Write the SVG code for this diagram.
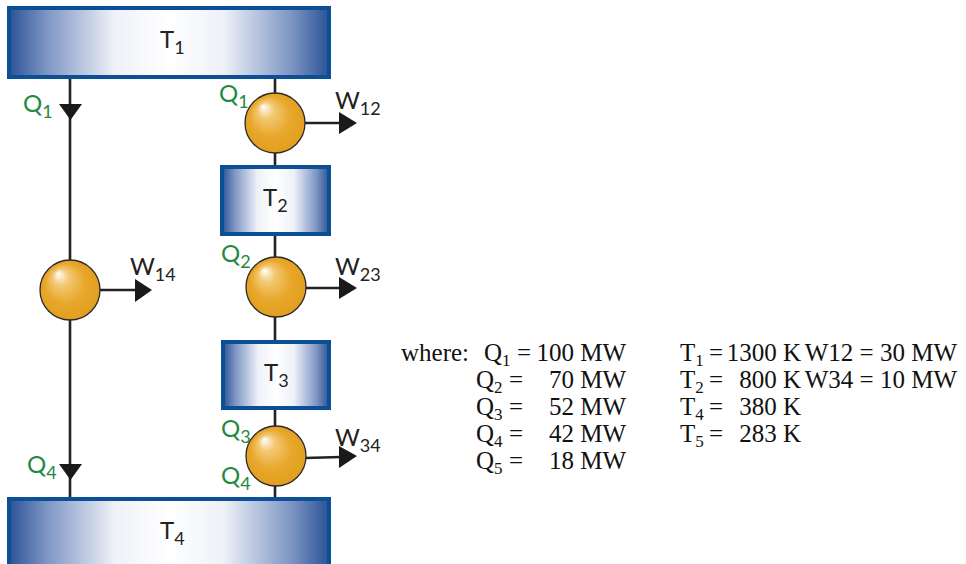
<svg xmlns="http://www.w3.org/2000/svg" width="966" height="564" viewBox="0 0 966 564">
<defs>
<linearGradient id="boxg" x1="0" y1="0" x2="1" y2="0">
<stop offset="0" stop-color="#2a5296"/>
<stop offset="0.12" stop-color="#7f97c4"/>
<stop offset="0.33" stop-color="#eef1f8"/>
<stop offset="0.5" stop-color="#ffffff"/>
<stop offset="0.67" stop-color="#eef1f8"/>
<stop offset="0.88" stop-color="#7f97c4"/>
<stop offset="1" stop-color="#2a5296"/>
</linearGradient>
<radialGradient id="ballg" cx="0.5" cy="0.5" r="0.55" fx="0.3" fy="0.22">
<stop offset="0" stop-color="#ffffff"/>
<stop offset="0.25" stop-color="#f2c872"/>
<stop offset="0.6" stop-color="#e8a82c"/>
<stop offset="1" stop-color="#e19d1c"/>
</radialGradient>
<style>
.box{fill:url(#boxg);stroke:#0b4f97;stroke-width:4}
.ball{fill:url(#ballg);stroke:#2a2a2a;stroke-width:1.3}
.ln{stroke:#222;stroke-width:2.6;fill:none}
.ah{fill:#1a1a1a}
.lbl{font-family:Lato,"Noto Sans",sans-serif;font-size:24px;fill:#222}
.q{fill:#1f8a3e}
.sub{font-size:18px}
.eq{font-family:"Liberation Serif","Times New Roman",serif;font-size:25px;fill:#111}
.s2{font-size:17px}
</style>
</defs>
<g id="connectors">
<line class="ln" x1="70" y1="78" x2="70" y2="498"/>
<polygon class="ah" points="59,104 82,104 70.5,120"/>
<polygon class="ah" points="59,464 82,464 70.5,480"/>
<line class="ln" x1="275" y1="78" x2="275" y2="498"/>
<line class="ln" x1="100" y1="290" x2="137" y2="290"/>
<polygon class="ah" points="135,279 135,302 152,290"/>
<line class="ln" x1="304" y1="123" x2="341" y2="123"/>
<polygon class="ah" points="339,112 339,134 357,123"/>
<line class="ln" x1="305" y1="288" x2="341" y2="288"/>
<polygon class="ah" points="339,277 339,299 357,288"/>
<line class="ln" x1="305" y1="458" x2="341" y2="457"/>
<polygon class="ah" points="339,446 339,468 357,456"/>
</g>
<g id="T1"><rect class="box" x="9" y="8" width="320" height="69"/><text class="lbl" x="160" y="48">T<tspan class="sub" dy="6">1</tspan></text></g>
<g id="T2"><rect class="box" x="222" y="167" width="107" height="67"/><text class="lbl" x="263" y="206">T<tspan class="sub" dy="6">2</tspan></text></g>
<g id="T3"><rect class="box" x="223" y="342" width="106" height="66"/><text class="lbl" x="264" y="381">T<tspan class="sub" dy="6">3</tspan></text></g>
<g id="T4"><rect class="box" x="9" y="499" width="320" height="80"/><text class="lbl" x="160" y="539">T<tspan class="sub" dy="6">4</tspan></text></g>
<g id="E1"><circle class="ball" cx="275" cy="123" r="30"/></g>
<g id="E14"><circle class="ball" cx="70" cy="290" r="30"/></g>
<g id="E23"><circle class="ball" cx="276" cy="287" r="30"/></g>
<g id="E34"><circle class="ball" cx="276" cy="456" r="30"/></g>
<g id="labels">
<text class="lbl q" x="23" y="112">Q<tspan class="sub" dy="6">1</tspan></text>
<text class="lbl q" x="219" y="102">Q<tspan class="sub" dy="6">1</tspan></text>
<text class="lbl q" x="221" y="262">Q<tspan class="sub" dy="6">2</tspan></text>
<text class="lbl q" x="221" y="437">Q<tspan class="sub" dy="6">3</tspan></text>
<text class="lbl q" x="221" y="484">Q<tspan class="sub" dy="6">4</tspan></text>
<text class="lbl q" x="27" y="473">Q<tspan class="sub" dy="6">4</tspan></text>
<text class="lbl" x="335" y="109">W<tspan class="sub" dy="6">12</tspan></text>
<text class="lbl" x="130" y="275">W<tspan class="sub" dy="6">14</tspan></text>
<text class="lbl" x="335" y="275">W<tspan class="sub" dy="6">23</tspan></text>
<text class="lbl" x="335" y="446">W<tspan class="sub" dy="6">34</tspan></text>
</g>
<g id="legend" class="eq">
<text x="401" y="361">where:</text>
<text x="484" y="361">Q<tspan class="s2" dy="5">1</tspan></text><text x="517" y="361">=</text><text x="626" y="361" text-anchor="end">100 MW</text>
<text x="476" y="388">Q<tspan class="s2" dy="5">2</tspan></text><text x="509" y="388">=</text><text x="626" y="388" text-anchor="end">70 MW</text>
<text x="476" y="415">Q<tspan class="s2" dy="5">3</tspan></text><text x="509" y="415">=</text><text x="626" y="415" text-anchor="end">52 MW</text>
<text x="476" y="442">Q<tspan class="s2" dy="5">4</tspan></text><text x="509" y="442">=</text><text x="626" y="442" text-anchor="end">42 MW</text>
<text x="476" y="469">Q<tspan class="s2" dy="5">5</tspan></text><text x="509" y="469">=</text><text x="626" y="469" text-anchor="end">18 MW</text>
<text x="680" y="361">T<tspan class="s2" dy="5">1</tspan></text><text x="709" y="361">=</text><text x="801" y="361" text-anchor="end">1300 K</text><text x="957" y="361" text-anchor="end">W12 = 30 MW</text>
<text x="680" y="388">T<tspan class="s2" dy="5">2</tspan></text><text x="709" y="388">=</text><text x="801" y="388" text-anchor="end">800 K</text><text x="957" y="388" text-anchor="end">W34 = 10 MW</text>
<text x="680" y="415">T<tspan class="s2" dy="5">4</tspan></text><text x="709" y="415">=</text><text x="801" y="415" text-anchor="end">380 K</text>
<text x="680" y="442">T<tspan class="s2" dy="5">5</tspan></text><text x="709" y="442">=</text><text x="801" y="442" text-anchor="end">283 K</text>
</g>
</svg>
